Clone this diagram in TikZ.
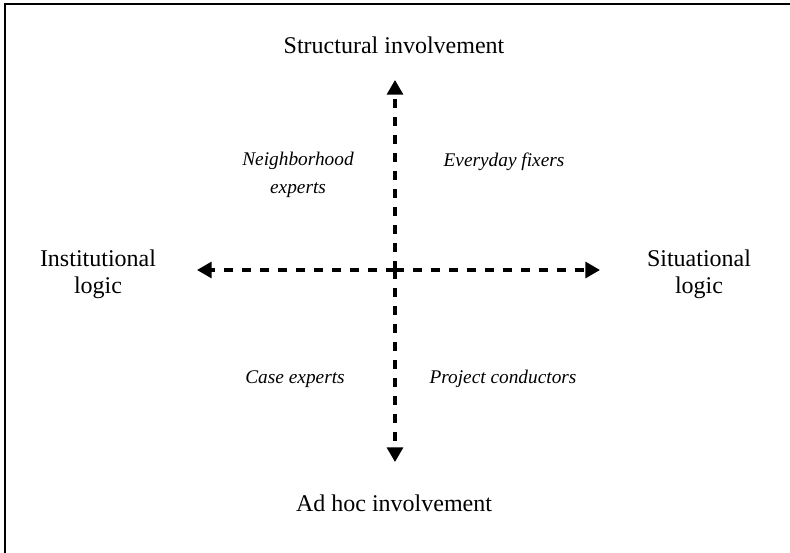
\documentclass[tikz,border=0pt]{standalone}
\usepackage{fontspec}
\setmainfont{Liberation Serif}
\usetikzlibrary{arrows.meta}
\begin{document}
\begin{tikzpicture}[x=0.75pt,y=-0.75pt,
  axis/.style={line width=2.4pt,dash pattern=on 7pt off 6.5pt,
    -{Triangle[length=11pt,width=12pt]}},
  pole/.style={font=\fontsize{18}{20}\selectfont,align=center,anchor=base,inner sep=0pt},
  quad/.style={font=\fontsize{14.5}{21}\selectfont\itshape,align=center,anchor=base,inner sep=0pt}]
\useasboundingbox (0,0) rectangle (790,553);
\coordinate (fbl) at (5,553);
\coordinate (ftl) at (5,4);
\coordinate (ftr) at (790,4);
\draw[line width=1.3pt] (fbl) -- (ftl) -- (ftr);
\coordinate (c) at (395,270);
\coordinate (top) at (395,80);
\coordinate (bot) at (395,462);
\coordinate (lft) at (197,270);
\coordinate (rgt) at (600,270);
\draw[axis] (c) -- (top);
\draw[axis] (c) -- (bot);
\draw[axis] (c) -- (lft);
\draw[axis] (c) -- (rgt);
\node[pole] (si) at (394,53) {Structural involvement};
\node[pole] (ai) at (394,511) {Ad hoc involvement};
\node[pole] (il) at (98,293) {Institutional\\logic};
\node[pole] (sl) at (699,293) {Situational\\logic};
\node[quad] (ne) at (298,193) {Neighborhood\\experts};
\node[quad] (ef) at (504,166) {Everyday fixers};
\node[quad] (ce) at (295,383) {Case experts};
\node[quad] (pc) at (503,383) {Project conductors};
\end{tikzpicture}
\end{document}
